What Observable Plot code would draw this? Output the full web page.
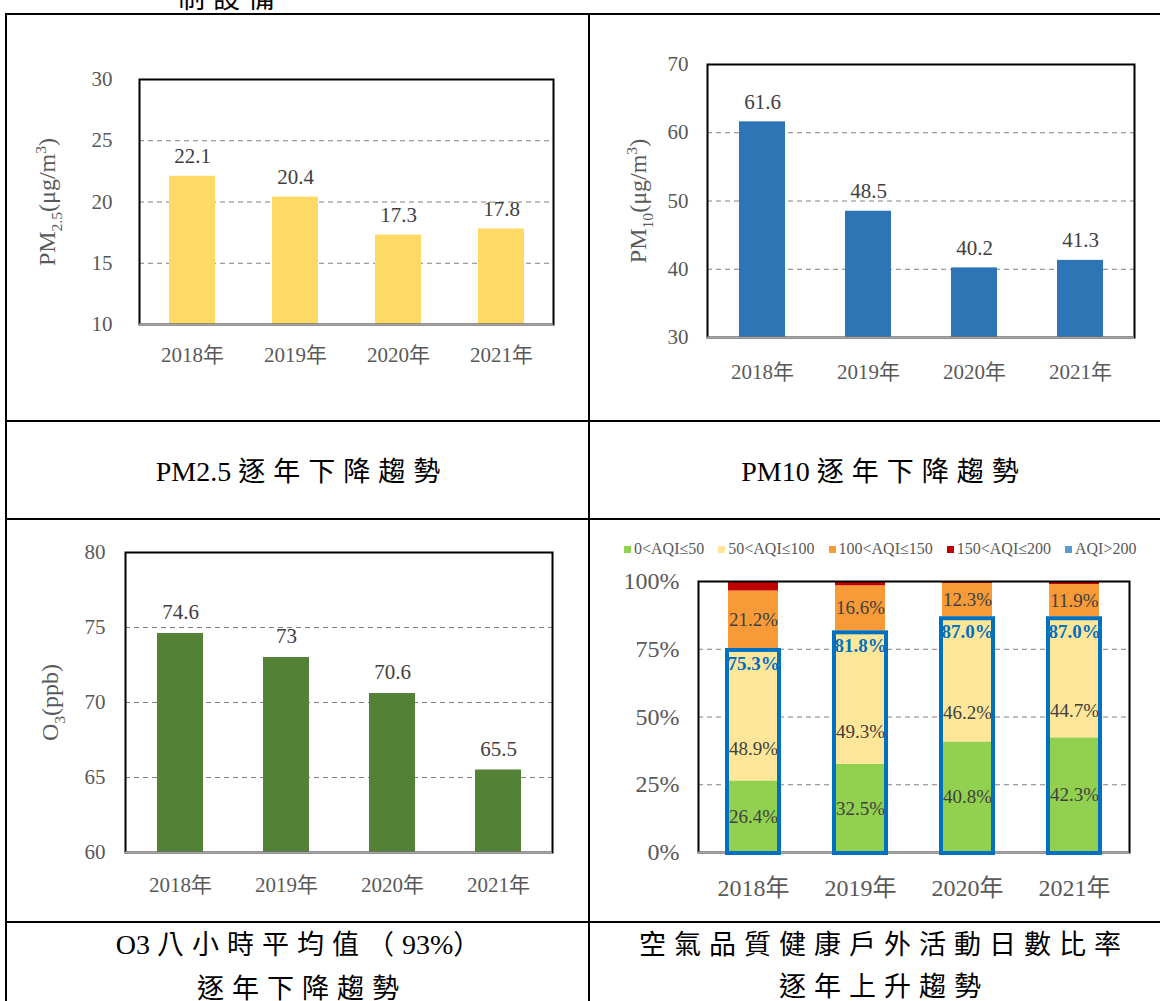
<!DOCTYPE html>
<html><head><meta charset="utf-8">
<script src="https://cdn.jsdelivr.net/npm/d3@7"></script>
<script src="https://cdn.jsdelivr.net/npm/@observablehq/plot@0.6"></script>
<style>
html,body{margin:0;padding:0;background:#fff;}
body{width:1160px;height:1001px;position:relative;overflow:hidden;}
.ln{position:absolute;background:#000;z-index:5;}
.cap{position:absolute;text-align:center;font-family:"Noto Sans CJK TC","Liberation Serif",serif;font-size:27px;letter-spacing:8px;padding-left:8px;box-sizing:border-box;color:#000;line-height:42px;white-space:nowrap;}
.lat{font-family:"Liberation Serif",serif;font-size:28px;letter-spacing:0;}
.chart{position:absolute;}
.legend{position:absolute;display:flex;align-items:center;font-family:"Liberation Serif",serif;font-size:16px;color:#595959;line-height:20px;white-space:nowrap;}
.legend .it{display:flex;align-items:center;margin-right:14px;}
.legend .sw{display:inline-block;width:7px;height:7px;margin-right:3px;}
</style></head><body>
<div class="cap" style="left:178px;top:-24px;width:140px;padding-left:0;text-align:left">制設備</div>

<div class="ln" style="left:5px;top:13px;width:1170px;height:2px"></div>
<div class="ln" style="left:5px;top:13px;width:2px;height:995px"></div>
<div class="ln" style="left:588px;top:13px;width:2px;height:995px"></div>
<div class="ln" style="left:5px;top:420px;width:1170px;height:2px"></div>
<div class="ln" style="left:5px;top:518px;width:1170px;height:2px"></div>
<div class="ln" style="left:5px;top:921px;width:1170px;height:2px"></div>

<div id="c1" class="chart" style="left:10px;top:60px"></div>
<div id="c2" class="chart" style="left:592px;top:30px"></div>
<div id="c3" class="chart" style="left:10px;top:525px"></div>
<div id="lg" class="legend" style="left:624px;top:539px"></div>
<div id="c4" class="chart" style="left:592px;top:560px"></div>

<div class="cap" style="left:7px;width:582px;top:449px"><span class="lat">PM2.5 </span>逐年下降趨勢</div>
<div class="cap" style="left:590px;width:580px;top:449px"><span class="lat">PM10 </span>逐年下降趨勢</div>
<div class="cap" style="left:7px;width:582px;top:922px"><span class="lat">O3 </span>八小時平均值（<span class="lat">93%</span>）<br>逐年下降趨勢</div>
<div class="cap" style="left:590px;width:580px;top:922px">空氣品質健康戶外活動日數比率<br>逐年上升趨勢</div>

<script>
// ---------- data ----------
const years = ["2018年", "2019年", "2020年", "2021年"];
const pm25 = [22.1, 20.4, 17.3, 17.8];
const pm10 = [61.6, 48.5, 40.2, 41.3];
const o3 = [74.6, 73, 70.6, 65.5];
const pm25Ticks = [10, 15, 20, 25, 30];
const pm10Ticks = [30, 40, 50, 60, 70];
const o3Ticks = [60, 65, 70, 75, 80];
const aqiTicks = [0, 25, 50, 75, 100];
const aqiNames = ["0<AQI≤50", "50<AQI≤100", "100<AQI≤150", "150<AQI≤200", "AQI>200"];
const aqiGood = [26.4, 32.5, 40.8, 42.3];
const aqiModerate = [48.9, 49.3, 46.2, 44.7];
const aqiSensitive = [21.2, 16.6, 12.3, 11.9];
const aqiUnhealthy = [3.5, 1.6, 0.7, 1.1];
const aqiVeryUnhealthy = [0, 0, 0, 0];
const aqiColors = ["#92D050", "#FFE699", "#F89A38", "#C00000", "#5B9BD5"];

const serif = '"Liberation Serif","Noto Sans CJK TC",serif';

function richLabel(svg, plain, parts, fs) {
  d3.select(svg).selectAll("text").filter(function () { return this.textContent === plain; }).each(function () {
    const t = d3.select(this);
    t.text(null);
    let shift = 0;
    parts.forEach(p => {
      const target = p.sub ? fs * 0.3 : p.sup ? -fs * 0.4 : 0;
      const s = t.append("tspan").text(p.t);
      if (target !== shift) { s.attr("dy", target - shift); shift = target; }
      if (p.sub || p.sup) s.attr("font-size", fs * 0.65);
    });
  });
}

function simpleBar(el, cfg) {
  const data = years.map((y, i) => ({year: y, value: cfg.values[i]}));
  const lo = cfg.ticks[0], hi = cfg.ticks[cfg.ticks.length - 1];
  const plot = Plot.plot({
    width: cfg.w, height: cfg.h,
    marginLeft: cfg.ml, marginRight: cfg.mr, marginTop: cfg.mt, marginBottom: cfg.mb,
    style: {fontFamily: serif, fontSize: "21px", color: "#595959", background: "transparent", overflow: "visible"},
    x: {domain: years, paddingInner: cfg.pi, paddingOuter: cfg.pi / 2, axis: null},
    y: {domain: [lo, hi], axis: null},
    marks: [
      Plot.gridY(cfg.ticks.slice(1, -1), {stroke: "#808080", strokeOpacity: 1, strokeDasharray: "5,4"}),
      Plot.barY(data, {x: "year", y1: d => lo, y2: "value", fill: cfg.color}),
      Plot.frame({stroke: "#000", strokeWidth: 2}),
      Plot.ruleY([lo], {stroke: "#a6a6a6", strokeWidth: 2}),
      Plot.axisY(cfg.ticks, {label: null, tickSize: 0, tickPadding: cfg.yPad, fill: "#595959", fontFamily: serif, fontSize: 21, letterSpacing: 1}),
      Plot.axisX(years, {label: null, tickSize: 0, tickPadding: cfg.xPad, fill: "#595959", fontFamily: serif, fontSize: 21, letterSpacing: 1}),
      Plot.text(data, {x: "year", y: "value", text: d => String(d.value), dy: cfg.vdy, fill: "#404040", fontFamily: serif, fontSize: 21, letterSpacing: 1}),
      Plot.text([cfg.label], {frameAnchor: "left", textAnchor: "middle", rotate: -90, dx: cfg.ldx, fill: "#595959", fontFamily: serif, fontSize: 24, letterSpacing: 0.5})
    ]
  });
  richLabel(plot, cfg.label, cfg.labelParts, 24);
  document.getElementById(el).append(plot);
}

simpleBar("c1", {
  values: pm25, ticks: pm25Ticks, color: "#FFD966",
  w: 570, h: 320, ml: 129, mr: 27, mt: 19, mb: 56, pi: 0.556,
  yPad: 27, xPad: 23, vdy: -20, ldx: -92,
  label: "PM2.5(μg/m3)",
  labelParts: [{t: "PM"}, {t: "2.5", sub: true}, {t: "(μg/m"}, {t: "3", sup: true}, {t: ")"}]
});
simpleBar("c2", {
  values: pm10, ticks: pm10Ticks, color: "#2E75B6",
  w: 565, h: 360, ml: 115, mr: 23, mt: 34, mb: 53, pi: 0.569,
  yPad: 19, xPad: 27, vdy: -20, ldx: -69,
  label: "PM10(μg/m3)",
  labelParts: [{t: "PM"}, {t: "10", sub: true}, {t: "(μg/m"}, {t: "3", sup: true}, {t: ")"}]
});
simpleBar("c3", {
  values: o3, ticks: o3Ticks, color: "#538135",
  w: 570, h: 390, ml: 115, mr: 28, mt: 27, mb: 63, pi: 0.569,
  yPad: 20, xPad: 25, vdy: -21, ldx: -75,
  label: "O3(ppb)",
  labelParts: [{t: "O"}, {t: "3", sub: true}, {t: "(ppb)"}]
});

// ---------- stacked AQI chart ----------
const series = [aqiGood, aqiModerate, aqiSensitive, aqiUnhealthy, aqiVeryUnhealthy];
const stackData = [];
years.forEach((y, i) => aqiNames.forEach((n, k) => stackData.push({year: y, cat: n, value: series[k][i]})));
const rows = years.map((y, i) => ({
  year: y,
  good: aqiGood[i], moderate: aqiModerate[i], sensitive: aqiSensitive[i],
  healthy: +(aqiGood[i] + aqiModerate[i]).toFixed(1)
}));
const pct = v => v.toFixed(1) + "%";

const p4 = Plot.plot({
  width: 565, height: 340, marginLeft: 106, marginRight: 28, marginTop: 21, marginBottom: 48,
  style: {fontFamily: serif, fontSize: "24px", color: "#595959", background: "transparent", overflow: "visible"},
  x: {domain: years, paddingInner: 0.536, paddingOuter: 0.268, axis: null},
  y: {domain: [0, 100], axis: null},
  color: {domain: aqiNames, range: aqiColors},
  marks: [
    Plot.gridY(aqiTicks.slice(1, -1), {stroke: "#808080", strokeOpacity: 1, strokeDasharray: "5,4"}),
    Plot.barY(stackData, {x: "year", y: "value", fill: "cat", z: "cat"}),
    Plot.frame({stroke: "#000", strokeWidth: 2}),
    Plot.ruleY([0], {stroke: "#a6a6a6", strokeWidth: 2}),
    Plot.barY(rows, {x: "year", y1: d => 0, y2: "healthy", fill: "none", stroke: "#0070C0", strokeWidth: 4, insetLeft: -1, insetRight: -1, insetTop: 2, insetBottom: -1}),
    Plot.axisY(aqiTicks, {label: null, tickSize: 0, tickPadding: 19, tickFormat: d => d + "%", fill: "#595959", fontFamily: serif, fontSize: 24}),
    Plot.axisX(years, {label: null, tickSize: 0, tickPadding: 26, fill: "#595959", fontFamily: serif, fontSize: 24}),
    Plot.text(rows, {x: "year", y: d => d.good / 2, text: d => pct(d.good), fill: "#404040", fontFamily: serif, fontSize: 19}),
    Plot.text(rows, {x: "year", y: d => d.good + d.moderate / 2, text: d => pct(d.moderate), dy: 34, fill: "#404040", fontFamily: serif, fontSize: 19}),
    Plot.text(rows, {x: "year", y: d => d.good + d.moderate + d.sensitive / 2, text: d => pct(d.sensitive), fill: "#404040", fontFamily: serif, fontSize: 19}),
    Plot.text(rows, {x: "year", y: "healthy", text: d => pct(d.healthy), dy: 15, fill: "#0070C0", fontWeight: "bold", fontFamily: serif, fontSize: 19})
  ]
});
document.getElementById("c4").append(p4);

// legend
const lg = d3.select("#lg");
aqiNames.forEach((n, k) => {
  const it = lg.append("span").attr("class", "it");
  it.append("span").attr("class", "sw").style("background", aqiColors[k]);
  it.append("span").text(n);
});
</script>
</body></html>
